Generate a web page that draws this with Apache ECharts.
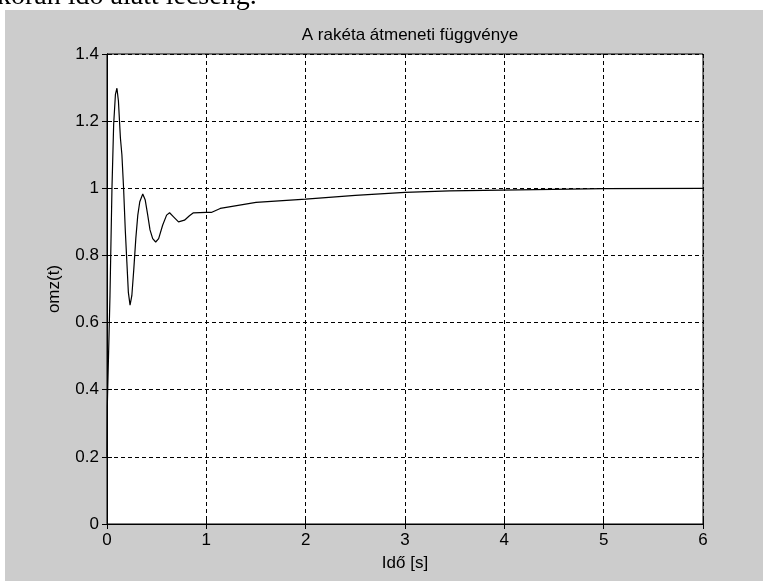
<!DOCTYPE html>
<html>
<head>
<meta charset="utf-8">
<script src="https://cdn.jsdelivr.net/npm/echarts@6/dist/echarts.min.js"></script>
<style>html,body{margin:0;padding:0;background:#fff}#c{width:763px;height:581px}</style>
</head>
<body>
<div id="c"></div>
<script>
const chartTitle = 'A rakéta átmeneti függvénye';
const xAxisName = 'Idő [s]';
const yAxisName = 'omz(t)';
const pageText = 'korán idő alatt lecseng.';
const timeValues = [0, 0.003, 0.03, 0.05, 0.067, 0.085, 0.1, 0.115, 0.135, 0.15, 0.167, 0.184, 0.2, 0.215, 0.232, 0.25, 0.27, 0.29, 0.31, 0.33, 0.36, 0.385, 0.41, 0.433, 0.46, 0.49, 0.52, 0.56, 0.6, 0.63, 0.67, 0.72, 0.74, 0.78, 0.83, 0.87, 1.0, 1.05, 1.14, 1.5, 2.0, 2.5, 3.0, 3.45, 4.14, 4.15, 5.0, 6.0];
const omzValues  = [0.2, 0.35, 0.68, 1.0, 1.19, 1.28, 1.298, 1.26, 1.15, 1.1, 1.0, 0.876, 0.78, 0.69, 0.652, 0.68, 0.76, 0.85, 0.92, 0.96, 0.983, 0.965, 0.92, 0.876, 0.85, 0.84, 0.85, 0.89, 0.92, 0.927, 0.915, 0.9, 0.899, 0.905, 0.918, 0.927, 0.928, 0.928, 0.94, 0.958, 0.968, 0.979, 0.988, 0.992, 0.995, 0.998, 0.999, 1.0];
const xMin = 0, xMax = 6, xStep = 1;
const yMin = 0, yMax = 1.4, yStep = 0.2;

const font = 'Liberation Sans';
const chart = echarts.init(document.getElementById('c'), null, {renderer: 'canvas'});
const gridDash = {color: '#000', width: 1, type: [4, 3]};
const tickIn = {show: true, inside: true, length: 5, lineStyle: {color: '#000', width: 1}};
chart.setOption({
  animation: false,
  backgroundColor: '#cccccc',
  graphic: [
    {type: 'rect', shape: {x: 0, y: 0, width: 763, height: 10}, style: {fill: '#fff'}, z: 99},
    {type: 'rect', shape: {x: 0, y: 0, width: 5, height: 581}, style: {fill: '#fff'}, z: 99},
    {type: 'text', x: -3, y: -3, style: {text: pageText, font: '28px "Liberation Serif"', fill: '#000', verticalAlign: 'middle', align: 'left'}, z: 100},
    {type: 'rect', shape: {x: 5, y: 10, width: 758, height: 8}, style: {fill: '#cccccc'}, z: 101}
  ],
  title: {
    text: chartTitle, left: 405, top: 22, textAlign: 'center',
    textStyle: {fontFamily: font, fontSize: 17, fontWeight: 'normal', color: '#000'}
  },
  grid: {left: 107, top: 54, right: 60, bottom: 57, show: true, backgroundColor: '#fff', borderColor: '#000', borderWidth: 1},
  xAxis: [{
    type: 'value', min: xMin, max: xMax, interval: xStep,
    name: xAxisName, nameLocation: 'middle', nameGap: 31,
    nameTextStyle: {fontFamily: font, fontSize: 17, color: '#000'},
    axisLine: {show: true, lineStyle: {color: '#000', width: 1}},
    axisTick: tickIn,
    axisLabel: {fontFamily: font, fontSize: 17, color: '#000', margin: 8},
    splitLine: {show: true, lineStyle: gridDash}
  }, {
    type: 'value', position: 'top', min: xMin, max: xMax, interval: xStep,
    axisLine: {show: true, lineStyle: {color: '#000'}}, axisTick: tickIn,
    axisLabel: {show: false}, splitLine: {show: false}
  }],
  yAxis: [{
    type: 'value', min: yMin, max: yMax, interval: yStep,
    name: yAxisName, nameLocation: 'middle', nameGap: 44, nameRotate: 90,
    nameTextStyle: {fontFamily: font, fontSize: 17, color: '#000'},
    axisLine: {show: true, lineStyle: {color: '#000', width: 1}},
    axisTick: tickIn,
    axisLabel: {fontFamily: font, fontSize: 17, color: '#000', margin: 8},
    splitLine: {show: true, lineStyle: gridDash}
  }, {
    type: 'value', position: 'right', min: yMin, max: yMax, interval: yStep,
    axisLine: {show: true, lineStyle: {color: '#000'}}, axisTick: tickIn,
    axisLabel: {show: false}, splitLine: {show: false}
  }],
  series: [{
    type: 'line', xAxisIndex: 0, yAxisIndex: 0,
    data: timeValues.map((t, i) => [t, omzValues[i]]),
    showSymbol: false, symbol: 'none', smooth: false,
    lineStyle: {color: '#000', width: 1.2}
  }]
});
</script>
</body>
</html>
